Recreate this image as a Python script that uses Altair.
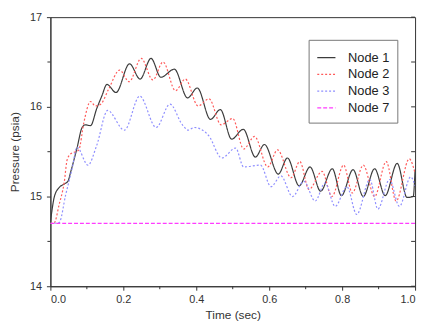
import altair as alt
import pandas as pd

# Node 1 (solid black)
t1 = [0.0, 0.011, 0.024, 0.038, 0.048, 0.056, 0.073, 0.087, 0.096, 0.11, 0.127, 0.141, 0.155, 0.18,
      0.217, 0.246, 0.276, 0.303, 0.34, 0.376, 0.403, 0.439, 0.466, 0.497, 0.529, 0.562, 0.587,
      0.625, 0.65, 0.682, 0.712, 0.741, 0.773, 0.798, 0.83, 0.858, 0.889, 0.918, 0.951, 0.978,
      0.995, 1.0]
p1 = [14.71, 15.0, 15.1, 15.14, 15.17, 15.28, 15.54, 15.77, 15.8, 15.79, 15.98, 16.12, 16.25, 16.16,
      16.48, 16.31, 16.54, 16.33, 16.42, 16.1, 16.21, 15.86, 15.97, 15.64, 15.75, 15.44, 15.58,
      15.25, 15.43, 15.12, 15.33, 15.06, 15.31, 15.01, 15.3, 15.0, 15.31, 15.01, 15.37, 14.99,
      15.0, 15.3]

# Node 2 (red dotted)
t2 = [0.0, 0.011, 0.024, 0.038, 0.046, 0.057, 0.07, 0.078, 0.092, 0.11, 0.123, 0.138, 0.16, 0.19,
      0.216, 0.249, 0.281, 0.309, 0.343, 0.37, 0.405, 0.435, 0.468, 0.5, 0.53, 0.56, 0.596,
      0.623, 0.66, 0.684, 0.709, 0.745, 0.772, 0.804, 0.828, 0.858, 0.889, 0.921, 0.948, 0.984, 1.0]
p2 = [14.7, 14.71, 14.91, 15.16, 15.41, 15.48, 15.5, 15.52, 15.83, 16.06, 16.01, 16.03, 16.2, 16.41,
      16.28, 16.54, 16.3, 16.5, 16.18, 16.31, 16.01, 16.09, 15.8, 15.87, 15.53, 15.67, 15.33,
      15.52, 15.21, 15.39, 15.08, 15.28, 15.0, 15.35, 15.04, 15.35, 15.0, 15.39, 14.95, 15.42, 15.26]

# Node 3 (blue dotted)
t3 = [0.0, 0.024, 0.042, 0.06, 0.073, 0.103, 0.127, 0.157, 0.203, 0.245, 0.29, 0.328, 0.362,
      0.378, 0.394, 0.434, 0.47, 0.508, 0.53, 0.576, 0.605, 0.632, 0.664, 0.695, 0.726, 0.753,
      0.781, 0.813, 0.84, 0.876, 0.898, 0.93, 0.957, 0.988, 1.0]
p3 = [14.7, 14.71, 15.02, 15.32, 15.55, 15.35, 15.57, 15.96, 15.74, 16.12, 15.77, 16.03, 15.8,
      15.74, 15.77, 15.68, 15.43, 15.54, 15.33, 15.35, 15.11, 15.23, 15.0, 15.17, 14.95, 15.15,
      14.89, 15.11, 14.8, 15.19, 14.86, 15.19, 14.89, 15.22, 15.12]

# Node 7 (magenta dashed)
t7 = [0.0, 1.0]
p7 = [14.7, 14.7]

# axis tick values
x_major = [0.0, 0.2, 0.4, 0.6, 0.8, 1.0]
x_minor = [0.1, 0.3, 0.5, 0.7, 0.9]
y_major = [14, 15, 16, 17]
y_minor = [14.5, 15.5, 16.5]
y_right = [14, 14.5, 15, 15.5, 16, 16.5, 17]

nodes = ["Node 1", "Node 2", "Node 3", "Node 7"]
colors = ["#3c3c3c", "#ff5a5a", "#8f8fff", "#ff3cff"]
dashes = [[1, 0], [2, 2], [2, 2], [4, 2]]

rows = []
for name, ts, ps in [("Node 1", t1, p1), ("Node 2", t2, p2), ("Node 3", t3, p3), ("Node 7", t7, p7)]:
    for t, p in zip(ts, ps):
        rows.append({"node": name, "t": t, "p": p})
df = pd.DataFrame(rows)

W, H = 370, 273
FONT = "Liberation Sans"
xs = alt.Scale(domain=[0, 1], nice=False, zero=False)
ys = alt.Scale(domain=[14, 17], nice=False, zero=False)

legend = alt.Legend(
    title=None, orient="none", legendX=262, legendY=23,
    symbolType="stroke", symbolSize=340, symbolStrokeWidth=1.3,
    labelFont=FONT, labelFontSize=13, labelColor="#222", labelOffset=12,
    strokeColor="#777", padding=8, rowPadding=0, fillColor="white",
)

lines = alt.Chart(df).mark_line(interpolate="monotone", strokeWidth=1.2, clip=True).encode(
    x=alt.X("t:Q", scale=xs, axis=alt.Axis(
        values=x_major, format=".1f", title="Time (sec)",
        tickSize=4, labelPadding=4, titlePadding=5, grid=False)),
    y=alt.Y("p:Q", scale=ys, axis=alt.Axis(
        values=y_major, format="d", title="Pressure (psia)",
        tickSize=4, labelPadding=5, titlePadding=8, grid=False)),
    color=alt.Color("node:N", scale=alt.Scale(domain=nodes, range=colors), legend=legend),
    strokeDash=alt.StrokeDash("node:N", scale=alt.Scale(domain=nodes, range=dashes), legend=legend),
    order=alt.Order("t:Q"),
)

xminor = alt.Chart(pd.DataFrame({"v": x_minor})).mark_rule(color="#333", strokeWidth=1).encode(
    x=alt.X("v:Q", scale=xs), y=alt.value(H), y2=alt.value(H + 3))
yminor = alt.Chart(pd.DataFrame({"v": y_minor})).mark_rule(color="#333", strokeWidth=1).encode(
    y=alt.Y("v:Q", scale=ys), x=alt.value(-3), x2=alt.value(0))
yright = alt.Chart(pd.DataFrame({"v": y_right})).mark_rule(color="#333", strokeWidth=1).encode(
    y=alt.Y("v:Q", scale=ys), x=alt.value(W - 4), x2=alt.value(W))

chart = alt.layer(lines, xminor, yminor, yright).properties(
    width=W, height=H,
    autosize=alt.AutoSizeParams(type="none"),
    padding={"left": 43, "top": 7, "right": 5, "bottom": 35},
).configure_view(
    stroke="#333", strokeWidth=1
).configure_axis(
    labelFont=FONT, titleFont=FONT, labelFontSize=11, titleFontSize=12,
    labelColor="#333", titleColor="#333", titleFontWeight="normal",
    domainColor="#333", tickColor="#333",
)

chart.save("out.html", embed_options={"renderer": "svg", "actions": False})
